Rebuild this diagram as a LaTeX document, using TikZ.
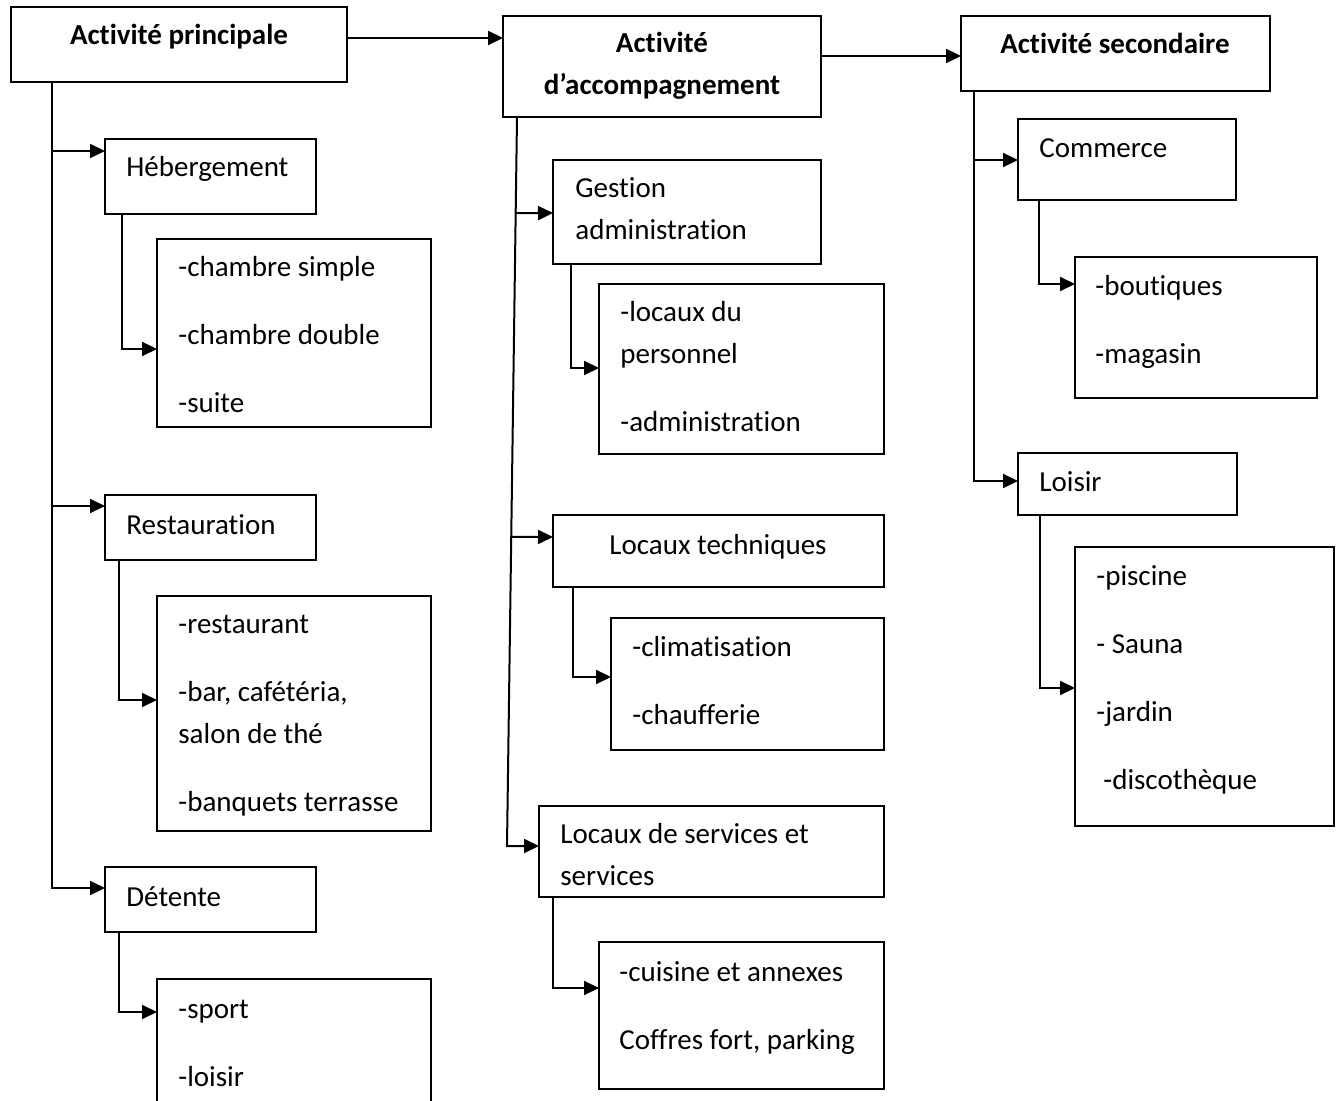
\documentclass[tikz,border=0pt]{standalone}
\usepackage{fontspec}
\setmainfont{Carlito}[Ligatures=NoCommon]
\usetikzlibrary{arrows.meta,fit,calc}

\begin{document}
\begin{tikzpicture}[x=0.5pt, y=-0.5pt,
    cadre/.style={draw, line width=1.1pt, inner sep=0pt, outer sep=0pt},
    texte/.style={inner sep=0pt, anchor=base west, align=left, font=\fontsize{14.5}{21}\selectfont},
    titre/.style={inner sep=0pt, anchor=base, align=center, font=\bfseries\fontsize{14.5}{21}\selectfont},
    fleche/.style={line width=1pt, -{Triangle[length=7.5pt, width=7pt]}}]
    \useasboundingbox (0,0) rectangle (1344,1101);
    \clip (0,0) rectangle (1344,1101);

    % les trois activités (texte sur plusieurs lignes : placé par sa dernière ligne)
    \node[cadre, fit={(11,7) (347,82)}] (princ) {};
    \node[titre] (princ-t) at (179,45) {Activité principale};
    \node[cadre, fit={(503,16) (821,117)}] (acc) {};
    \node[titre] (acc-t) at (662,95) {Activité\\d’accompagnement};
    \node[cadre, fit={(961,16) (1270,91)}] (sec) {};
    \node[titre] (sec-t) at (1115,54) {Activité secondaire};

    \draw[fleche] (princ.east |- 0,38) -- (acc.west |- 0,38);
    \draw[fleche] (acc.east |- 0,56) -- (sec.west |- 0,56);

    % activité principale
    \node[cadre, fit={(105,139) (316,214)}] (heb) {};
    \node[texte] (heb-t) at (126,177) {Hébergement};
    \node[cadre, fit={(157,239) (431,427)}] (heb-l) {};
    \node[texte] (heb-lt) at (178,413) {-chambre simple\\[13pt]-chambre double\\[13pt]-suite};

    \node[cadre, fit={(105,495) (316,560)}] (rest) {};
    \node[texte] (rest-t) at (126,534) {Restauration};
    \node[cadre, fit={(157,596) (431,831)}] (rest-l) {};
    \node[texte] (rest-lt) at (178,811) {-restaurant\\[13pt]-bar, cafétéria,\\salon de thé\\[13pt]-banquets terrasse};

    \node[cadre, fit={(105,867) (316,932)}] (det) {};
    \node[texte] (det-t) at (126,906) {Détente};
    \node[cadre, fit={(157,979) (431,1104)}] (det-l) {};
    \node[texte] (det-lt) at (178,1086) {-sport\\[13pt]-loisir};

    \draw[fleche] (princ.south -| 52,0) |- (heb.west |- 0,151);
    \draw[fleche] (princ.south -| 52,0) |- (rest.west |- 0,506);
    \draw[fleche] (princ.south -| 52,0) |- (det.west |- 0,888);
    \draw[fleche] (heb.south -| 122,0) |- (heb-l.west |- 0,349);
    \draw[fleche] (rest.south -| 119,0) |- (rest-l.west |- 0,700);
    \draw[fleche] (det.south -| 119,0) |- (det-l.west |- 0,1012);

    % activité d'accompagnement
    \node[cadre, fit={(553,160) (821,264)}] (gest) {};
    \node[texte] (gest-t) at (575,240) {Gestion\\administration};
    \node[cadre, fit={(599,284) (884,454)}] (pers) {};
    \node[texte] (pers-t) at (620,432) {-locaux du\\personnel\\[13pt]-administration};

    \node[cadre, fit={(553,515) (884,587)}] (tech) {};
    \node[texte, anchor=base] (tech-t) at (718,554) {Locaux techniques};
    \node[cadre, fit={(611,618) (884,750)}] (clim) {};
    \node[texte] (clim-t) at (632,724) {-climatisation\\[13pt]-chaufferie};

    \node[cadre, fit={(539,806) (884,897)}] (serv) {};
    \node[texte] (serv-t) at (560,885) {Locaux de services et\\services};
    \node[cadre, fit={(599,942) (884,1089)}] (cuis) {};
    \node[texte] (cuis-t) at (619,1049) {-cuisine et annexes\\[13pt]Coffres fort, parking};

    \coordinate (m-haut) at (acc.south -| 517,0);
    \coordinate (m-bas) at (507,846);
    \draw[fleche] (m-haut) -- (m-bas) -- (serv.west |- m-bas);
    \draw[fleche] ($(m-haut)!0.132!(m-bas)$) -- (gest.west |- 0,213);
    \draw[fleche] ($(m-haut)!0.576!(m-bas)$) -- (tech.west |- 0,537);
    \draw[fleche] (gest.south -| 571,0) |- (pers.west |- 0,368);
    \draw[fleche] (tech.south -| 573,0) |- (clim.west |- 0,677);
    \draw[fleche] (serv.south -| 553,0) |- (cuis.west |- 0,988);

    % activité secondaire
    \node[cadre, fit={(1018,119) (1236,200)}] (com) {};
    \node[texte] (com-t) at (1039,158) {Commerce};
    \node[cadre, fit={(1075,257) (1317,398)}] (bout) {};
    \node[texte] (bout-t) at (1095,364) {-boutiques\\[13pt]-magasin};

    \node[cadre, fit={(1018,453) (1237,515)}] (lois) {};
    \node[texte] (lois-t) at (1039,492) {Loisir};
    \node[cadre, fit={(1075,547) (1334,826)}] (pisc) {};
    \node[texte] (pisc-t) at (1096,789) {-piscine\\[13pt]- Sauna\\[13pt]-jardin\\[13pt]\hspace*{3.5pt}-discothèque};

    \draw[fleche] (sec.south -| 974,0) |- (com.west |- 0,160);
    \draw[fleche] (sec.south -| 974,0) |- (lois.west |- 0,481);
    \draw[fleche] (com.south -| 1039,0) |- (bout.west |- 0,284);
    \draw[fleche] (lois.south -| 1040,0) |- (pisc.west |- 0,688);
\end{tikzpicture}
\end{document}
